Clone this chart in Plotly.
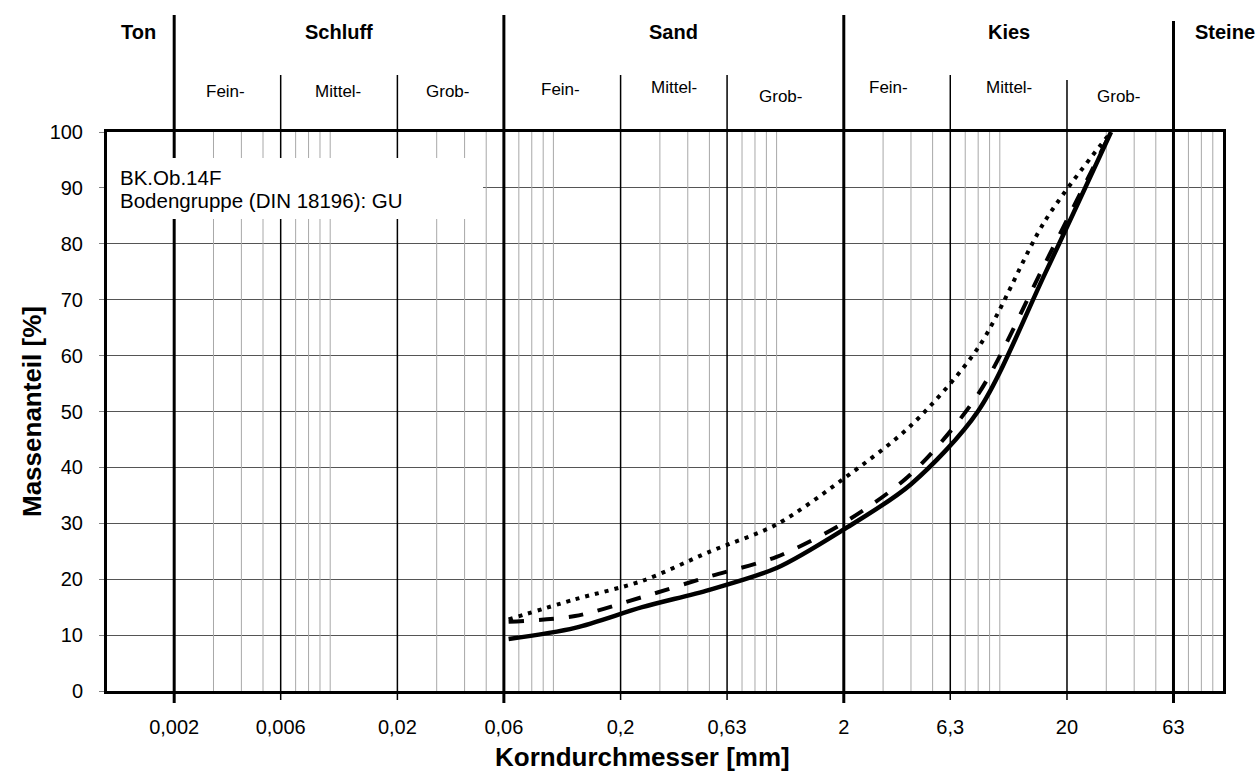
import math
import plotly.graph_objects as go

# ---------------- data ----------------
sizes_mm = [0.063, 0.125, 0.25, 0.5, 1, 2, 4, 8, 16, 31.5]
passing_solid = [9.3, 11.3, 15.0, 18.1, 22.0, 28.9, 37.0, 50.1, 74.8, 100]
passing_dashed = [12.4, 13.4, 16.8, 20.5, 24.0, 30.1, 38.8, 53.1, 76.6, 100]
passing_dotted = [12.8, 16.4, 19.7, 24.9, 29.8, 38.0, 47.5, 61.4, 84.2, 100]

tick_vals = [0.002, 0.006, 0.02, 0.06, 0.2, 0.6, 2, 6, 20, 60]
tick_text = ["0,002", "0,006", "0,02", "0,06", "0,2", "0,63", "2", "6,3", "20", "63"]
main_bounds = [0.002, 0.06, 2, 60]
sub_bounds = [0.006, 0.02, 0.2, 0.6, 6, 20]
minor_vals = [0.003, 0.004, 0.005, 0.007, 0.008, 0.009, 0.01,
              0.03, 0.04, 0.05, 0.07, 0.08, 0.09, 0.1,
              0.3, 0.4, 0.5, 0.7, 0.8, 0.9, 1,
              3, 4, 5, 7, 8, 9, 10,
              30, 40, 50, 70, 80, 90]
y_ticks = [0, 10, 20, 30, 40, 50, 60, 70, 80, 90, 100]

group_names = ["Ton", "Schluff", "Sand", "Kies"]
group_edges = [0.001, 0.002, 0.06, 2, 60]
sub_names = ["Fein-", "Mittel-", "Grob-"]
sub_groups = [[0.002, 0.006, 0.02, 0.06], [0.06, 0.2, 0.6, 2], [2, 6, 20, 60]]

sample_lines = ["BK.Ob.14F", "Bodengruppe (DIN 18196): GU"]

# ---------------- layout helpers ----------------
PLOT_LEFT, PLOT_RIGHT = 107, 1223
PLOT_TOP, PLOT_BOTTOM = 132, 691
W = PLOT_RIGHT - PLOT_LEFT
H = PLOT_BOTTOM - PLOT_TOP


def py(pix):
    return (PLOT_BOTTOM - pix) / H


def px(pix):
    return (pix - PLOT_LEFT) / W


FONT = "Liberation Sans, Arial, sans-serif"
SMOOTH = 0.85

fig = go.Figure()

fig.add_trace(go.Scatter(x=sizes_mm, y=passing_dotted, mode="lines",
                         line=dict(color="black", width=4, dash="4px,6px", shape="spline", smoothing=SMOOTH),
                         hoverinfo="x+y"))
fig.add_trace(go.Scatter(x=sizes_mm, y=passing_dashed, mode="lines",
                         line=dict(color="black", width=4, dash="15px,15px", shape="spline", smoothing=SMOOTH),
                         hoverinfo="x+y"))
fig.add_trace(go.Scatter(x=sizes_mm, y=passing_solid, mode="lines",
                         line=dict(color="black", width=4.5, shape="spline", smoothing=SMOOTH),
                         hoverinfo="x+y"))

shapes = []
for v in minor_vals:
    shapes.append(dict(type="line", xref="x", yref="y", x0=v, x1=v, y0=0, y1=100,
                       line=dict(color="#a8a8a8", width=1), layer="between"))
for v in sub_bounds:
    shapes.append(dict(type="line", xref="x", yref="y", x0=v, x1=v, y0=0, y1=100,
                       line=dict(color="black", width=1.5), layer="between"))
    top = py(80) if v == 20 else py(75)
    shapes.append(dict(type="line", xref="x", yref="paper", x0=v, x1=v, y0=1, y1=top,
                       line=dict(color="black", width=1.5)))
    shapes.append(dict(type="line", xref="x", yref="paper", x0=v, x1=v, y0=0, y1=py(700),
                       line=dict(color="black", width=1.5)))
for v in main_bounds:
    shapes.append(dict(type="line", xref="x", yref="y", x0=v, x1=v, y0=0, y1=100,
                       line=dict(color="black", width=3), layer="between"))
    top = py(21) if v == 60 else py(15)
    shapes.append(dict(type="line", xref="x", yref="paper", x0=v, x1=v, y0=1, y1=top,
                       line=dict(color="black", width=3)))
    shapes.append(dict(type="line", xref="x", yref="paper", x0=v, x1=v, y0=0, y1=py(703),
                       line=dict(color="black", width=3)))
shapes.append(dict(type="rect", xref="x", yref="y", x0=0.001, x1=0.0484,
                   y0=py(219) * 100, y1=py(158) * 100,
                   fillcolor="white", line=dict(width=0), layer="between"))

annotations = []
for i, name in enumerate(group_names):
    xc = math.log10(math.sqrt(group_edges[i] * group_edges[i + 1]))
    annotations.append(dict(text=f"<b>{name}</b>", xref="x", yref="paper", x=xc, y=py(32),
                            xanchor="center", yanchor="middle", xshift=-2 if i == 0 else 0,
                            showarrow=False, font=dict(size=20, family=FONT)))
annotations.append(dict(text="<b>Steine</b>", xref="paper", yref="paper",
                        x=px(1225), y=py(32), xanchor="center", yanchor="middle",
                        showarrow=False, font=dict(size=20, family=FONT)))
sub_y = [[92, 91, 91], [90, 87, 97], [88, 87, 97]]
sub_dx = [[-2, -1, -3], [-2, 0, -5], [-9, 0, -2]]
for gi, edges in enumerate(sub_groups):
    for si, name in enumerate(sub_names):
        xc = math.log10(math.sqrt(edges[si] * edges[si + 1]))
        annotations.append(dict(text=name, xref="x", yref="paper", x=xc, y=py(sub_y[gi][si]),
                                xanchor="center", yanchor="middle", xshift=sub_dx[gi][si],
                                showarrow=False, font=dict(size=17, family=FONT)))
for k, line in enumerate(sample_lines):
    annotations.append(dict(text=line, xref="paper", yref="paper", x=px(118),
                            y=py(177 + 23 * k), xanchor="left", yanchor="middle",
                            showarrow=False, font=dict(size=20.5, family=FONT)))
# axis titles
annotations.append(dict(text="<b>Korndurchmesser [mm]</b>", xref="paper", yref="paper",
                        x=px(642), y=py(757), xanchor="center", yanchor="middle",
                        showarrow=False, font=dict(size=26, family=FONT)))
annotations.append(dict(text="<b>Massenanteil [%]</b>", xref="paper", yref="paper",
                        x=px(32), y=py(412), xanchor="center", yanchor="middle", textangle=-90,
                        showarrow=False, font=dict(size=26, family=FONT)))

fig.update_layout(
    width=1258, height=776,
    margin=dict(l=PLOT_LEFT, r=1258 - PLOT_RIGHT, t=PLOT_TOP, b=776 - PLOT_BOTTOM),
    plot_bgcolor="white", paper_bgcolor="white",
    showlegend=False,
    font=dict(family=FONT, color="black"),
    shapes=shapes, annotations=annotations,
    xaxis=dict(type="log", range=[-3, 2], tickvals=tick_vals, ticktext=tick_text,
               ticks="", showgrid=False, zeroline=False,
               showline=True, linewidth=3, linecolor="black", mirror=True,
               tickfont=dict(size=20, family=FONT), ticklabelstandoff=16),
    yaxis=dict(range=[0, 100], tickvals=y_ticks, ticks="outside", ticklen=5, tickcolor="#808080",
               showgrid=True, gridcolor="#555555", gridwidth=1, zeroline=False,
               showline=True, linewidth=3, linecolor="black", mirror=True,
               tickfont=dict(size=20, family=FONT), ticklabelstandoff=12),
)

fig.write_html("out.html")
